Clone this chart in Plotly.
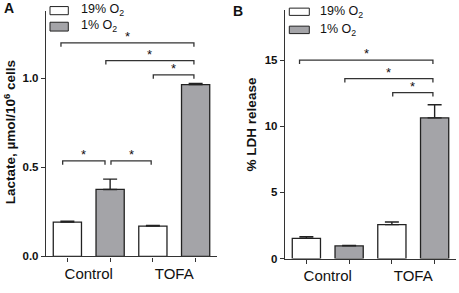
import plotly.graph_objects as go

# ---------------- data ----------------
groups = ["Control", "TOFA"]
series_names = ["19% O<sub>2</sub>", "1% O<sub>2</sub>"]

lactate_19 = [0.192, 0.170]
lactate_19_err = [0.005, 0.003]
lactate_1 = [0.376, 0.965]
lactate_1_err = [0.058, 0.006]

ldh_19 = [1.53, 2.57]
ldh_19_err = [0.12, 0.20]
ldh_1 = [0.96, 10.63]
ldh_1_err = [0.03, 0.99]

# significance brackets: (start, end, height) in data units
brackets_A = [(-0.15, 2.96, 1.20), (0.90, 2.96, 1.10), (2.01, 2.96, 1.02),
              (-0.11, 0.88, 0.537), (1.02, 1.96, 0.537)]
brackets_B = [(-0.16, 2.96, 15.0), (0.90, 2.96, 13.6), (2.02, 2.96, 12.54)]

yticks_A = [0.0, 0.5, 1.0]
yticks_B = [0, 5, 10, 15]

# ---------------- style ----------------
W, H = 459, 293
FONT = "Liberation Sans, Arial, sans-serif"
GREY = "#a4a4a8"
AX = "#333333"
fills = ["white", GREY]

fig = go.Figure()

def px(v):
    return v / W

def py(v):
    return 1 - v / H

panels = [
    dict(xa="x", ya="y", s19=lactate_19, e19=lactate_19_err, s1=lactate_1, e1=lactate_1_err),
    dict(xa="x2", ya="y2", s19=ldh_19, e19=ldh_19_err, s1=ldh_1, e1=ldh_1_err),
]

for p in panels:
    for k, (vals, errs) in enumerate([(p["s19"], p["e19"]), (p["s1"], p["e1"])]):
        xs = [2 * g + k for g in range(len(groups))]
        fig.add_trace(go.Bar(
            x=xs, y=vals, width=0.66, name=series_names[k],
            marker=dict(color=fills[k], line=dict(color="#222222", width=1.3)),
            error_y=dict(type="data", array=errs, arrayminus=[0] * len(errs),
                         symmetric=False, color="#222222", thickness=1.4, width=7),
            xaxis=p["xa"], yaxis=p["ya"], showlegend=False, hoverinfo="skip",
        ))

xcommon = dict(
    range=[-0.5, 3.5], showline=True, linecolor=AX, linewidth=1.4,
    tickmode="array", tickvals=[0.5, 2.5], ticktext=groups, ticks="",
    tickfont=dict(family=FONT, size=15, color="#111111"), ticklabelstandoff=3,
    minor=dict(tickmode="array", tickvals=[0, 1, 2, 3], ticks="outside",
               ticklen=4, tickwidth=1.3, tickcolor=AX),
    showgrid=False, zeroline=False, fixedrange=True,
)
ycommon = dict(
    showline=True, linecolor=AX, linewidth=1.4, ticks="outside", ticklen=4,
    tickwidth=1.3, tickcolor=AX, showgrid=False, zeroline=False,
    tickfont=dict(family=FONT, size=11.5, color="#111111", weight="bold"),
    tickmode="array", fixedrange=True,
)

fig.update_layout(
    width=W, height=H, margin=dict(l=0, r=0, t=0, b=0),
    paper_bgcolor="white", plot_bgcolor="white", barmode="overlay",
    xaxis=dict(xcommon, domain=[px(46), px(217)], anchor="y"),
    yaxis=dict(ycommon, domain=[py(261.7), py(11)], range=[0, 1.38],
               tickvals=yticks_A, ticktext=["%.1f" % v for v in yticks_A], anchor="x"),
    xaxis2=dict(xcommon, domain=[px(285), px(456)], anchor="y2"),
    yaxis2=dict(ycommon, domain=[py(264), py(10)], range=[0, 18.8],
                tickvals=yticks_B, ticktext=[str(v) for v in yticks_B], anchor="x2"),
)

shapes = []
annots = []

def add_brackets(br, xref, yref, leg):
    for x0, x1, y in br:
        shapes.append(dict(type="path", xref=xref, yref=yref,
                           path=f"M {x0},{y - leg} L {x0},{y} L {x1},{y} L {x1},{y - leg}",
                           line=dict(color=AX, width=1.3)))
        annots.append(dict(x=(x0 + x1) / 2, y=y, xref=xref, yref=yref, text="*",
                           showarrow=False, yanchor="bottom", yshift=-3,
                           font=dict(family=FONT, size=13, color="#111111")))

add_brackets(brackets_A, "x", "y", 0.022)
add_brackets(brackets_B, "x2", "y2", 0.30)

# legends
legend_boxes = [
    (50, 68.3, [(6.7, 15.0), (22.7, 31.7)], 79, [10.5, 26.5]),
    (289.3, 309.3, [(8.3, 15.7), (26.7, 34.3)], 318, [12, 30.5]),
]
for x0, x1, ys, tx, tys in legend_boxes:
    for k, ((y0, y1), ty) in enumerate(zip(ys, tys)):
        shapes.append(dict(type="rect", xref="paper", yref="paper",
                           x0=px(x0), x1=px(x1), y0=py(y1), y1=py(y0),
                           fillcolor=fills[k], line=dict(color="#222222", width=1)))
        annots.append(dict(x=px(tx), y=py(ty), xref="paper", yref="paper",
                           text=series_names[k], showarrow=False, xanchor="left",
                           yanchor="middle",
                           font=dict(family=FONT, size=12.5, color="#111111")))

# axis titles
annots.append(dict(x=px(10), y=py(135), xref="paper", yref="paper",
                   text="Lactate, µmol/10<sup>6</sup> cells", textangle=-90,
                   showarrow=False, xanchor="center", yanchor="middle",
                   font=dict(family=FONT, size=13.5, color="#111111", weight="bold")))
annots.append(dict(x=px(251.5), y=py(127.5), xref="paper", yref="paper",
                   text="% LDH release", textangle=-90,
                   showarrow=False, xanchor="center", yanchor="middle",
                   font=dict(family=FONT, size=13.5, color="#111111", weight="bold")))

# panel letters
annots.append(dict(x=px(9), y=py(8.5), xref="paper", yref="paper", text="A",
                   showarrow=False, xanchor="center", yanchor="middle",
                   font=dict(family=FONT, size=14, color="#111111", weight="bold")))
annots.append(dict(x=px(238), y=py(10.8), xref="paper", yref="paper", text="B",
                   showarrow=False, xanchor="center", yanchor="middle",
                   font=dict(family=FONT, size=14, color="#111111", weight="bold")))

fig.update_layout(shapes=shapes, annotations=annots, hovermode=False)
fig.write_html("out.html", config={"displayModeBar": False},
               post_script="document.body.style.margin='0';document.body.style.overflow='hidden';")
